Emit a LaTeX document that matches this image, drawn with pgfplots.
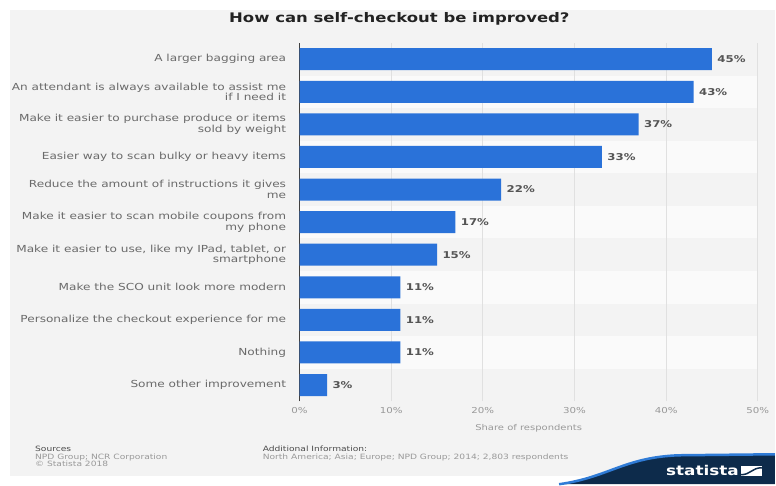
\documentclass[border=0pt]{standalone}
\usepackage{fontspec}
\setmainfont{DejaVu Sans}[FakeStretch=1.25]
\usepackage{pgfplots}
\pgfplotsset{compat=1.18}
\definecolor{bggray}{HTML}{F3F3F3}
\definecolor{stripew}{HTML}{FAFAFA}
\definecolor{gridc}{HTML}{E0E0E0}
\definecolor{barblue}{HTML}{2A72D9}
\definecolor{labc}{HTML}{6A6A6A}
\definecolor{tickc}{HTML}{999999}
\definecolor{valc}{HTML}{555555}
\definecolor{titc}{HTML}{222222}
\definecolor{navy}{HTML}{0D2B4B}
\definecolor{swoosh}{HTML}{2F7BD6}
\begin{document}
\begin{tikzpicture}
\path (0bp,0bp) rectangle (776bp,485bp);
\node[font=\fontsize{13.2bp}{15bp}\selectfont\bfseries, text=titc] at (400bp,466bp) {How can self-checkout be improved?};
\begin{axis}[
  at={(300bp,83bp)}, anchor=south west,
  width=459bp, height=359bp, scale only axis,
  set layers,
  /pgf/number format/assume math mode=true,
  xbar, bar width=22bp,
  xmin=0, xmax=50, ymin=-0.5, ymax=10.5,
  ytick={0,1,2,3,4,5,6,7,8,9,10},
  yticklabels={
    Some other improvement,
    Nothing,
    Personalize the checkout experience for me,
    Make the SCO unit look more modern,
    {Make it easier to use, like my IPad, tablet, or\\smartphone},
    {Make it easier to scan mobile coupons from\\my phone},
    {Reduce the amount of instructions it gives\\me},
    Easier way to scan bulky or heavy items,
    {Make it easier to purchase produce or items\\sold by weight},
    {An attendant is always available to assist me\\if I need it},
    A larger bagging area},
  xtick={0,10,20,30,40,50},
  xticklabel={\pgfmathprintnumber{\tick}\%},
  xmajorgrids, major grid style={gridc, line width=0.7bp},
  major tick length=0pt,
  axis x line*=bottom, axis y line*=left,
  x axis line style={draw=none},
  y axis line style={draw=black!75, line width=0.9bp, -},
  x tick label style={font=\fontsize{8.2bp}{9bp}\selectfont, text=tickc, yshift=-3bp},
  y tick label style={font=\fontsize{9.7bp}{10.5bp}\selectfont, text=labc, align=right, xshift=-10bp},
  xlabel={Share of respondents},
  xlabel style={font=\fontsize{8bp}{9bp}\selectfont, text=tickc, yshift=-3.5bp},
  nodes near coords={\pgfmathprintnumber{\pgfplotspointmeta}\%},
  point meta=x,
  nodes near coords style={font=\fontsize{9.4bp}{10bp}\selectfont\bfseries, text=valc, xshift=2bp},
]
\begin{pgfonlayer}{axis background}
\fill[bggray] ([xshift=-290bp,yshift=-75bp]rel axis cs:0,0) rectangle ([xshift=476bp,yshift=392bp]rel axis cs:0,0);
\fill[stripew] (axis cs:0,0.5) rectangle (axis cs:50,1.5);
\fill[stripew] (axis cs:0,2.5) rectangle (axis cs:50,3.5);
\fill[stripew] (axis cs:0,4.5) rectangle (axis cs:50,5.5);
\fill[stripew] (axis cs:0,6.5) rectangle (axis cs:50,7.5);
\fill[stripew] (axis cs:0,8.5) rectangle (axis cs:50,9.5);
\end{pgfonlayer}
\addplot[fill=barblue, draw=none] coordinates {
  (3,0) (11,1) (11,2) (11,3) (15,4) (17,5) (22,6) (33,7) (37,8) (43,9) (45,10)};
\end{axis}
\begin{scope}[every node/.style={anchor=base west, inner sep=0, font=\fontsize{7.3bp}{8bp}\selectfont}]
\node[text=black!70] at (35bp,33bp) {Sources};
\node[text=tickc] at (35bp,25bp) {NPD Group; NCR Corporation};
\node[text=tickc] at (35bp,18bp) {© Statista 2018};
\node[text=black!70] at (263bp,33bp) {Additional Information:};
\node[text=tickc] at (263bp,25bp) {North America; Asia; Europe; NPD Group; 2014; 2,803 respondents};
\end{scope}
\begin{scope}[x=1bp,y=1bp]
\fill[navy] (560,0) .. controls (610,7) and (625,27) .. (680,29) -- (776,30) -- (776,0) -- cycle;
\draw[swoosh, line width=2.5bp] (560,0) .. controls (610,7) and (625,27) .. (680,29) -- (776,30);
\node[font=\fontsize{13.5bp}{14bp}\selectfont\bfseries, text=white, anchor=base west, inner sep=0] at (667,9) {statista};
\fill[white] (742,8) rectangle (763,18);
\draw[navy, line width=1.5bp] (742,9.5) .. controls (752,9.5) and (753,16.5) .. (763,16.5);
\end{scope}
\end{tikzpicture}
\end{document}
